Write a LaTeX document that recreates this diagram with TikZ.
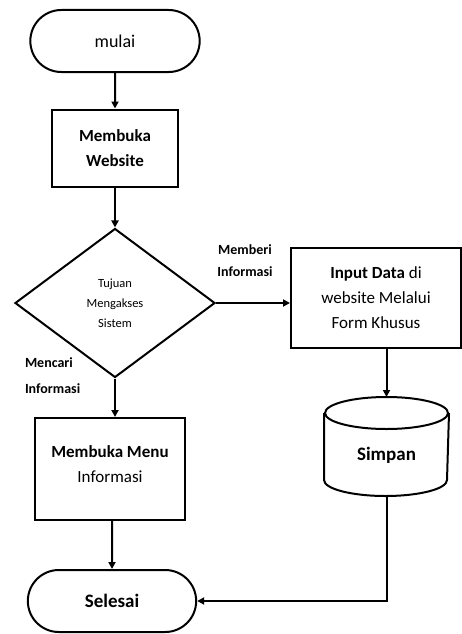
\documentclass[tikz,border=0pt]{standalone}
\usepackage{fontspec}
\setmainfont{Carlito}
\usetikzlibrary{shapes.geometric,shapes.misc,arrows.meta}
\begin{document}
\begin{tikzpicture}[x=1pt,y=-1pt,
  line width=2pt,
  terminal/.style={draw,rounded rectangle,minimum width=176pt,minimum height=62pt,font=\fontsize{18}{20}\selectfont},
  process/.style={draw,rectangle,align=center,font=\bfseries\fontsize{17}{25}\selectfont},
  decision/.style={draw,diamond,aspect=1.34,minimum width=200pt,minimum height=149pt,align=center,inner sep=0pt,font=\fontsize{12.5}{20}\selectfont},
  store/.style={minimum width=123pt,minimum height=97pt,inner sep=0pt,font=\bfseries\fontsize{19}{22}\selectfont},
  lbl/.style={align=left,font=\bfseries\fontsize{14}{22}\selectfont,inner sep=0pt},
  arr/.style={-{Triangle[length=7pt,width=7pt]}}
]
\useasboundingbox (0,0) rectangle (462,634);
\node[terminal] (start) at (115,41) {mulai};
\node[process,minimum width=126pt,minimum height=77pt,text depth=-6pt] (web) at (115,148) {Membuka\\Website};
\node[decision,text depth=-4pt] (dec) at (115,303) {Tujuan\\Mengakses\\Sistem};
\node[process,minimum width=150pt,minimum height=102pt,text depth=10pt] (menu) at (110,469) {Membuka Menu\\\mdseries Informasi};
\node[terminal,minimum width=175pt,font=\bfseries\fontsize{19}{20}\selectfont] (end) at (112,601) {Selesai};
\node[process,minimum width=170pt,minimum height=100pt] (input) at (376,298) {Input Data \mdseries di\\\mdseries website Melalui\\\mdseries Form Khusus};
\node[store] (simpan) at (386.5,446.5) {};
\draw ([yshift=-16pt]simpan.north west) -- ([yshift=16pt]simpan.south west)
  arc[start angle=180,end angle=360,x radius=61.5pt,y radius=16pt]
  -- ([yshift=-16pt]simpan.north east);
\draw ([yshift=-16pt]simpan.north) ellipse[x radius=61.5pt,y radius=16pt];
\node[store,minimum width=0pt,minimum height=0pt] (simpantext) at ([yshift=-9pt]simpan.center) {Simpan};
\node[lbl,align=center] (l1) at (245,261) {Memberi\\Informasi};
\node[lbl,anchor=north west,font=\bfseries\fontsize{14}{26}\selectfont] (l2) at (24,357) {Mencari\\Informasi};
\draw[arr] (start) -- (web);
\draw[arr] (web) -- (dec);
\draw[arr] (dec) -- (menu.north -| dec.south);
\draw[arr] (menu.south -| end.north) -- (end);
\draw[arr] (dec.east) -- (dec.east -| input.west);
\draw[arr] (simpan.north |- input.south) -- (simpan.north);
\draw[arr] (simpan.south) |- (end.east);
\end{tikzpicture}
\end{document}
